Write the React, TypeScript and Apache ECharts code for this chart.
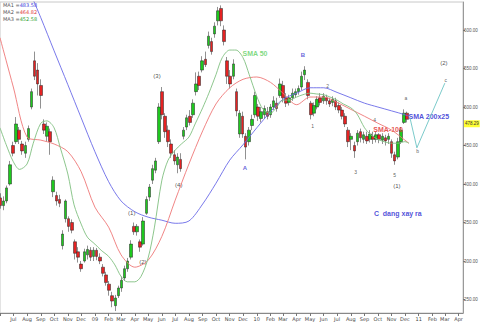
import React, { useEffect, useRef } from "react";
import * as echarts from "echarts";

// weekly candles [open, close, low, high], first week starting 2008-06-02
const firstWeek = "2008-06-02";
const candles: number[][] = [
  [382, 372, 368, 388], [372, 378, 366, 384], [378, 395, 375, 398], [400, 425, 398, 430],
  [450, 440, 436, 455], [455, 478, 452, 487], [470, 458, 452, 474], [452, 443, 438, 456],
  [440, 450, 434, 455], [458, 472, 455, 476], [500, 520, 497, 524], [560, 540, 535, 572],
  [548, 530, 515, 557], [528, 515, 498, 536], [478, 470, 465, 484], [462, 475, 455, 480],
  [468, 455, 438, 472], [390, 405, 383, 410], [385, 378, 372, 390], [380, 375, 370, 386],
  [320, 335, 315, 340], [355, 378, 350, 380], [355, 345, 338, 358], [350, 340, 336, 354],
  [325, 310, 302, 328], [312, 305, 298, 318], [296, 290, 286, 300], [300, 312, 298, 316],
  [308, 315, 302, 320], [314, 305, 300, 318], [306, 314, 300, 318], [314, 306, 301, 317],
  [305, 300, 296, 310], [292, 284, 280, 296], [282, 272, 268, 286], [270, 262, 255, 274],
  [255, 248, 240, 260], [242, 252, 235, 256], [255, 265, 252, 268], [265, 275, 260, 280],
  [278, 290, 274, 294], [290, 300, 286, 304], [305, 322, 302, 327], [345, 338, 334, 350],
  [338, 345, 333, 348], [325, 318, 312, 328], [322, 352, 320, 357], [362, 380, 360, 384],
  [383, 396, 378, 400], [405, 420, 400, 425], [418, 430, 414, 434], [455, 500, 452, 505],
  [520, 490, 484, 526], [488, 468, 460, 492], [470, 455, 448, 476], [452, 440, 434, 458],
  [438, 430, 425, 444], [425, 435, 414, 440], [432, 420, 416, 440], [462, 470, 458, 474],
  [474, 486, 470, 490], [488, 480, 476, 496], [490, 505, 486, 510], [520, 530, 515, 545],
  [540, 528, 522, 546], [548, 560, 545, 566], [562, 555, 552, 572], [580, 592, 576, 598],
  [585, 572, 568, 590], [595, 605, 590, 610], [612, 625, 606, 630], [628, 612, 605, 632],
  [600, 585, 580, 606], [560, 540, 530, 565], [540, 530, 524, 548], [540, 556, 536, 562],
  [520, 495, 488, 524], [465, 492, 460, 496], [488, 465, 460, 494], [462, 448, 432, 466],
  [455, 470, 450, 474], [476, 484, 470, 490], [490, 515, 486, 520], [500, 488, 482, 504],
  [485, 494, 480, 500], [490, 498, 485, 502], [494, 488, 484, 500], [490, 500, 486, 504],
  [500, 508, 496, 514], [505, 498, 494, 512], [515, 530, 512, 537], [528, 512, 506, 534],
  [512, 505, 500, 518], [506, 512, 502, 516], [512, 518, 508, 524], [516, 520, 512, 524],
  [520, 524, 516, 528], [526, 540, 522, 546], [542, 548, 535, 553], [532, 515, 510, 536],
  [505, 490, 484, 508], [492, 502, 488, 506], [500, 510, 497, 514], [512, 506, 502, 518],
  [508, 514, 504, 518], [512, 508, 503, 516], [508, 504, 500, 512], [506, 510, 501, 514],
  [508, 500, 496, 512], [502, 496, 492, 506], [496, 488, 484, 500], [488, 478, 474, 492],
  [470, 455, 448, 474], [458, 462, 444, 466], [450, 443, 434, 455], [455, 466, 450, 470],
  [468, 460, 454, 472], [458, 464, 453, 468], [462, 456, 452, 468], [458, 465, 454, 470],
  [462, 458, 452, 468], [458, 464, 454, 468], [464, 458, 453, 466], [457, 462, 452, 466],
  [460, 456, 450, 464], [458, 462, 452, 466], [455, 440, 434, 458], [438, 430, 425, 442],
  [435, 455, 432, 460], [455, 470, 452, 474], [480, 492, 478, 497], [492, 484, 480, 494],
];

// MA1 (blue, long), MA2 (red, SMA-100), MA3 (green, SMA 50)
const ma1: [string, number][] = [
  ["2008-08-01", 658], ["2008-09-01", 616], ["2008-10-01", 573], ["2008-11-01", 529],
  ["2008-12-01", 486], ["2009-01-01", 442], ["2009-02-01", 403], ["2009-03-01", 378],
  ["2009-04-01", 364], ["2009-05-01", 357], ["2009-06-01", 353], ["2009-07-01", 349],
  ["2009-08-01", 352], ["2009-09-01", 374], ["2009-10-01", 401], ["2009-11-01", 431],
  ["2009-12-01", 451], ["2010-01-01", 473], ["2010-02-01", 494], ["2010-03-01", 510],
  ["2010-04-01", 518], ["2010-05-01", 525], ["2010-06-01", 525], ["2010-07-01", 519],
  ["2010-08-01", 512], ["2010-09-01", 505], ["2010-10-01", 500], ["2010-11-01", 495],
  ["2010-12-01", 490], ["2010-12-10", 488],
];
const ma2: [string, number][] = [
  ["2008-06-01", 590], ["2008-07-01", 526], ["2008-08-01", 461], ["2008-09-01", 457],
  ["2008-10-01", 452], ["2008-11-01", 442], ["2008-12-01", 416], ["2009-01-01", 370],
  ["2009-02-01", 344], ["2009-03-01", 308], ["2009-04-01", 292], ["2009-05-01", 301],
  ["2009-06-01", 332], ["2009-07-01", 379], ["2009-08-01", 426], ["2009-09-01", 469],
  ["2009-10-01", 504], ["2009-11-01", 525], ["2009-12-01", 536], ["2010-01-01", 539],
  ["2010-02-01", 532], ["2010-03-01", 518], ["2010-04-01", 503], ["2010-05-01", 513],
  ["2010-06-01", 513], ["2010-07-01", 506], ["2010-08-01", 497], ["2010-09-01", 488],
  ["2010-10-01", 479], ["2010-11-01", 470], ["2010-12-01", 457], ["2010-12-10", 453],
];
const ma3: [string, number][] = [
  ["2008-06-01", 473], ["2008-06-15", 451], ["2008-07-01", 429], ["2008-07-15", 419],
  ["2008-08-01", 426], ["2008-08-15", 453], ["2008-09-01", 479], ["2008-09-15", 482],
  ["2008-10-01", 473], ["2008-10-15", 447], ["2008-11-01", 413], ["2008-11-15", 373],
  ["2008-12-01", 348], ["2008-12-15", 331], ["2009-01-01", 322], ["2009-01-15", 314],
  ["2009-02-01", 306], ["2009-02-15", 295], ["2009-03-01", 280], ["2009-03-15", 273],
  ["2009-04-01", 273], ["2009-04-15", 280], ["2009-05-01", 304], ["2009-05-15", 343],
  ["2009-06-01", 405], ["2009-06-15", 431], ["2009-07-01", 444], ["2009-07-15", 452],
  ["2009-08-01", 461], ["2009-08-15", 478], ["2009-09-01", 499], ["2009-09-15", 518],
  ["2009-10-01", 542], ["2009-10-15", 564], ["2009-11-01", 574], ["2009-11-15", 574],
  ["2009-12-01", 564], ["2009-12-15", 542], ["2010-01-01", 514], ["2010-01-15", 497],
  ["2010-02-01", 492], ["2010-02-15", 500], ["2010-03-01", 509], ["2010-03-15", 509],
  ["2010-04-01", 513], ["2010-04-15", 516], ["2010-05-01", 518], ["2010-05-15", 517],
  ["2010-06-01", 516], ["2010-06-15", 513], ["2010-07-01", 509], ["2010-07-15", 504],
  ["2010-08-01", 499], ["2010-08-15", 491], ["2010-09-01", 473], ["2010-09-15", 464],
  ["2010-10-01", 458], ["2010-10-15", 455], ["2010-11-01", 453], ["2010-11-15", 453],
  ["2010-12-01", 455], ["2010-12-10", 453],
];

// projected wave path (a -> b -> c)
const projection: [string, number][] = [
  ["2010-12-12", 487], ["2010-12-28", 447], ["2011-03-01", 531],
];

const legendRows = [
  { name: "MA1", value: "483.58", color: "#3b3bdb" },
  { name: "MA2", value: "464.82", color: "#e03a3a" },
  { name: "MA3", value: "452.58", color: "#2f9f2f" },
];
const lastPrice = 478.29;
const monthNames = ["Jan", "Feb", "Mar", "Apr", "May", "Jun", "Jul", "Aug", "Sep", "Oct", "Nov", "Dec"];
const axisStart = "2008-06-01";
const axisEnd = "2011-04-11";

// annotations: text, date, value, color, size, weight
const annotations: [string, string, number, string, number, string][] = [
  ["(3)", "2009-05-21", 540, "#222", 6, "normal"],
  ["(4)", "2009-07-09", 399, "#222", 6, "normal"],
  ["(1)", "2009-03-25", 362, "#222", 6, "normal"],
  ["(2)", "2009-04-19", 299, "#222", 6, "normal"],
  ["SMA 50", "2009-12-28", 569, "#5fcf5f", 7, "bold"],
  ["A", "2009-12-05", 421, "#3a3ad0", 6, "bold"],
  ["B", "2010-04-15", 568, "#3a3ad0", 6, "bold"],
  ["1", "2010-05-07", 475, "#333", 5, "normal"],
  ["2", "2010-06-10", 527, "#333", 5, "normal"],
  ["3", "2010-08-12", 416, "#333", 5, "normal"],
  ["4", "2010-09-24", 483, "#333", 5, "normal"],
  ["5", "2010-11-08", 412, "#333", 5, "normal"],
  ["(1)", "2010-11-13", 397, "#222", 6, "normal"],
  ["a", "2010-12-03", 512, "#333", 5, "normal"],
  ["b", "2010-12-30", 443, "#333", 5, "normal"],
  ["c", "2011-03-03", 535, "#333", 5, "normal"],
  ["(2)", "2011-02-27", 557, "#222", 6, "normal"],
  ["SMA-100", "2010-10-24", 471, "#e02828", 7, "bold"],
  ["SMA 200x25", "2011-01-24", 488, "#2323d0", 7, "bold"],
  ["C  dang xay ra", "2010-11-15", 362, "#2323d0", 7, "bold"],
];

function weekDate(i: number): string {
  const base = new Date(firstWeek + "T00:00:00Z").getTime();
  const d = new Date(base + i * 7 * 86400000);
  return d.toISOString().slice(0, 10);
}

export default function App() {
  const ref = useRef<HTMLDivElement>(null);
  useEffect(() => {
    if (!ref.current) return;
    const chart = echarts.init(ref.current, undefined, { renderer: "svg" });
    const candleData = candles.map((c, i) => [weekDate(i), c[0], c[1], c[2], c[3]]);
    const firstLabelTime = new Date(axisStart + "T00:00:00").getTime() + 10 * 86400000;
    const lineCommon = {
      type: "line",
      showSymbol: false,
      smooth: 0.3,
      silent: true,
      clip: true,
    };
    chart.setOption({
      animation: false,
      backgroundColor: "#ffffff",
      textStyle: { fontFamily: "DejaVu Sans" },
      grid: { left: 0, right: 17, top: 2, bottom: 16, show: true, borderColor: "#c8c8c8", borderWidth: 1, containLabel: false, outerBoundsMode: "none" },
      xAxis: {
        type: "time",
        min: axisStart,
        max: axisEnd,
        splitNumber: 34,
        minInterval: 28 * 86400000,
        maxInterval: 31 * 86400000,
        axisLine: { lineStyle: { color: "#888", width: 1 } },
        axisTick: { show: true, length: 3, lineStyle: { color: "#777" } },
        splitLine: { show: false },
        axisLabel: {
          fontSize: 5,
          color: "#444",
          margin: 3,
          showMinLabel: false,
          showMaxLabel: false,
          hideOverlap: false,
          formatter: (val: number) => {
            if (val < firstLabelTime) return "";
            const d = new Date(val);
            if (d.getDate() !== 1) return "";
            const m = d.getMonth();
            return m === 0 ? String(d.getFullYear()).slice(2) : monthNames[m];
          },
        },
      },
      yAxis: {
        type: "value",
        position: "right",
        min: 232.5,
        max: 636.4,
        splitNumber: 8,
        axisLine: { show: true, lineStyle: { color: "#999", width: 1 } },
        axisTick: { show: true, length: 2, lineStyle: { color: "#777" } },
        splitLine: { show: false },
        axisLabel: {
          fontSize: 4.5,
          fontFamily: "Liberation Sans",
          color: "#555",
          margin: 1,
          showMinLabel: false,
          showMaxLabel: false,
          formatter: (v: number) => (v % 50 === 0 ? v.toFixed(2) : ""),
        },
      },
      series: [
        { ...lineCommon, name: "MA1", data: ma1, lineStyle: { color: "#6a6ae8", width: 0.9 } },
        { ...lineCommon, name: "MA2", data: ma2, lineStyle: { color: "#ee7777", width: 0.9 } },
        { ...lineCommon, name: "MA3", data: ma3, lineStyle: { color: "#80c080", width: 0.9 } },
        {
          type: "line",
          name: "projection",
          data: projection,
          showSymbol: false,
          silent: true,
          lineStyle: { color: "#6cc4c4", width: 0.9 },
        },
        {
          type: "candlestick",
          name: "price",
          data: candleData,
          encode: { x: 0, y: [1, 2, 3, 4] },
          barWidth: 3,
          itemStyle: {
            color: "#1ec81e",
            color0: "#e52222",
            borderColor: "#222",
            borderColor0: "#222",
            borderWidth: 0.5,
          },
          markLine: {
            symbol: "none",
            silent: true,
            lineStyle: { color: "rgba(0,0,0,0)", width: 0, type: "solid" },
            label: {
              show: true,
              position: "end",
              distance: 1,
              formatter: lastPrice.toFixed(2),
              backgroundColor: "#ffff33",
              color: "#333",
              fontSize: 4.5,
              fontFamily: "Liberation Sans",
              padding: [1, 1],
            },
            emphasis: { disabled: true },
            data: [{ yAxis: lastPrice }],
          },
        },
        {
          type: "scatter",
          name: "notes",
          symbolSize: 0,
          silent: true,
          data: annotations.map(([text, date, v, color, size, weight]) => ({
            name: text,
            value: [date, v],
            label: { color, fontSize: size, fontWeight: weight },
          })),
          label: {
            show: true,
            position: "inside",
            formatter: (p: any) => p.name,
            fontFamily: "Liberation Sans",
          },
        },
      ],
      graphic: legendRows.map((r, i) => ({
        type: "text",
        left: 3,
        top: 2 + i * 7,
        style: {
          text: `{a|${r.name} =}{b|${r.value}}`,
          rich: {
            a: { fontSize: 5, fill: "#555", fontFamily: "DejaVu Sans" },
            b: { fontSize: 5, fill: r.color, fontFamily: "DejaVu Sans" },
          },
        },
      })),
    });
    return () => chart.dispose();
  }, []);
  return (
    <div
      ref={ref}
      style={{ position: "fixed", left: 0, top: 0, width: 480, height: 329, background: "#fff" }}
    />
  );
}
